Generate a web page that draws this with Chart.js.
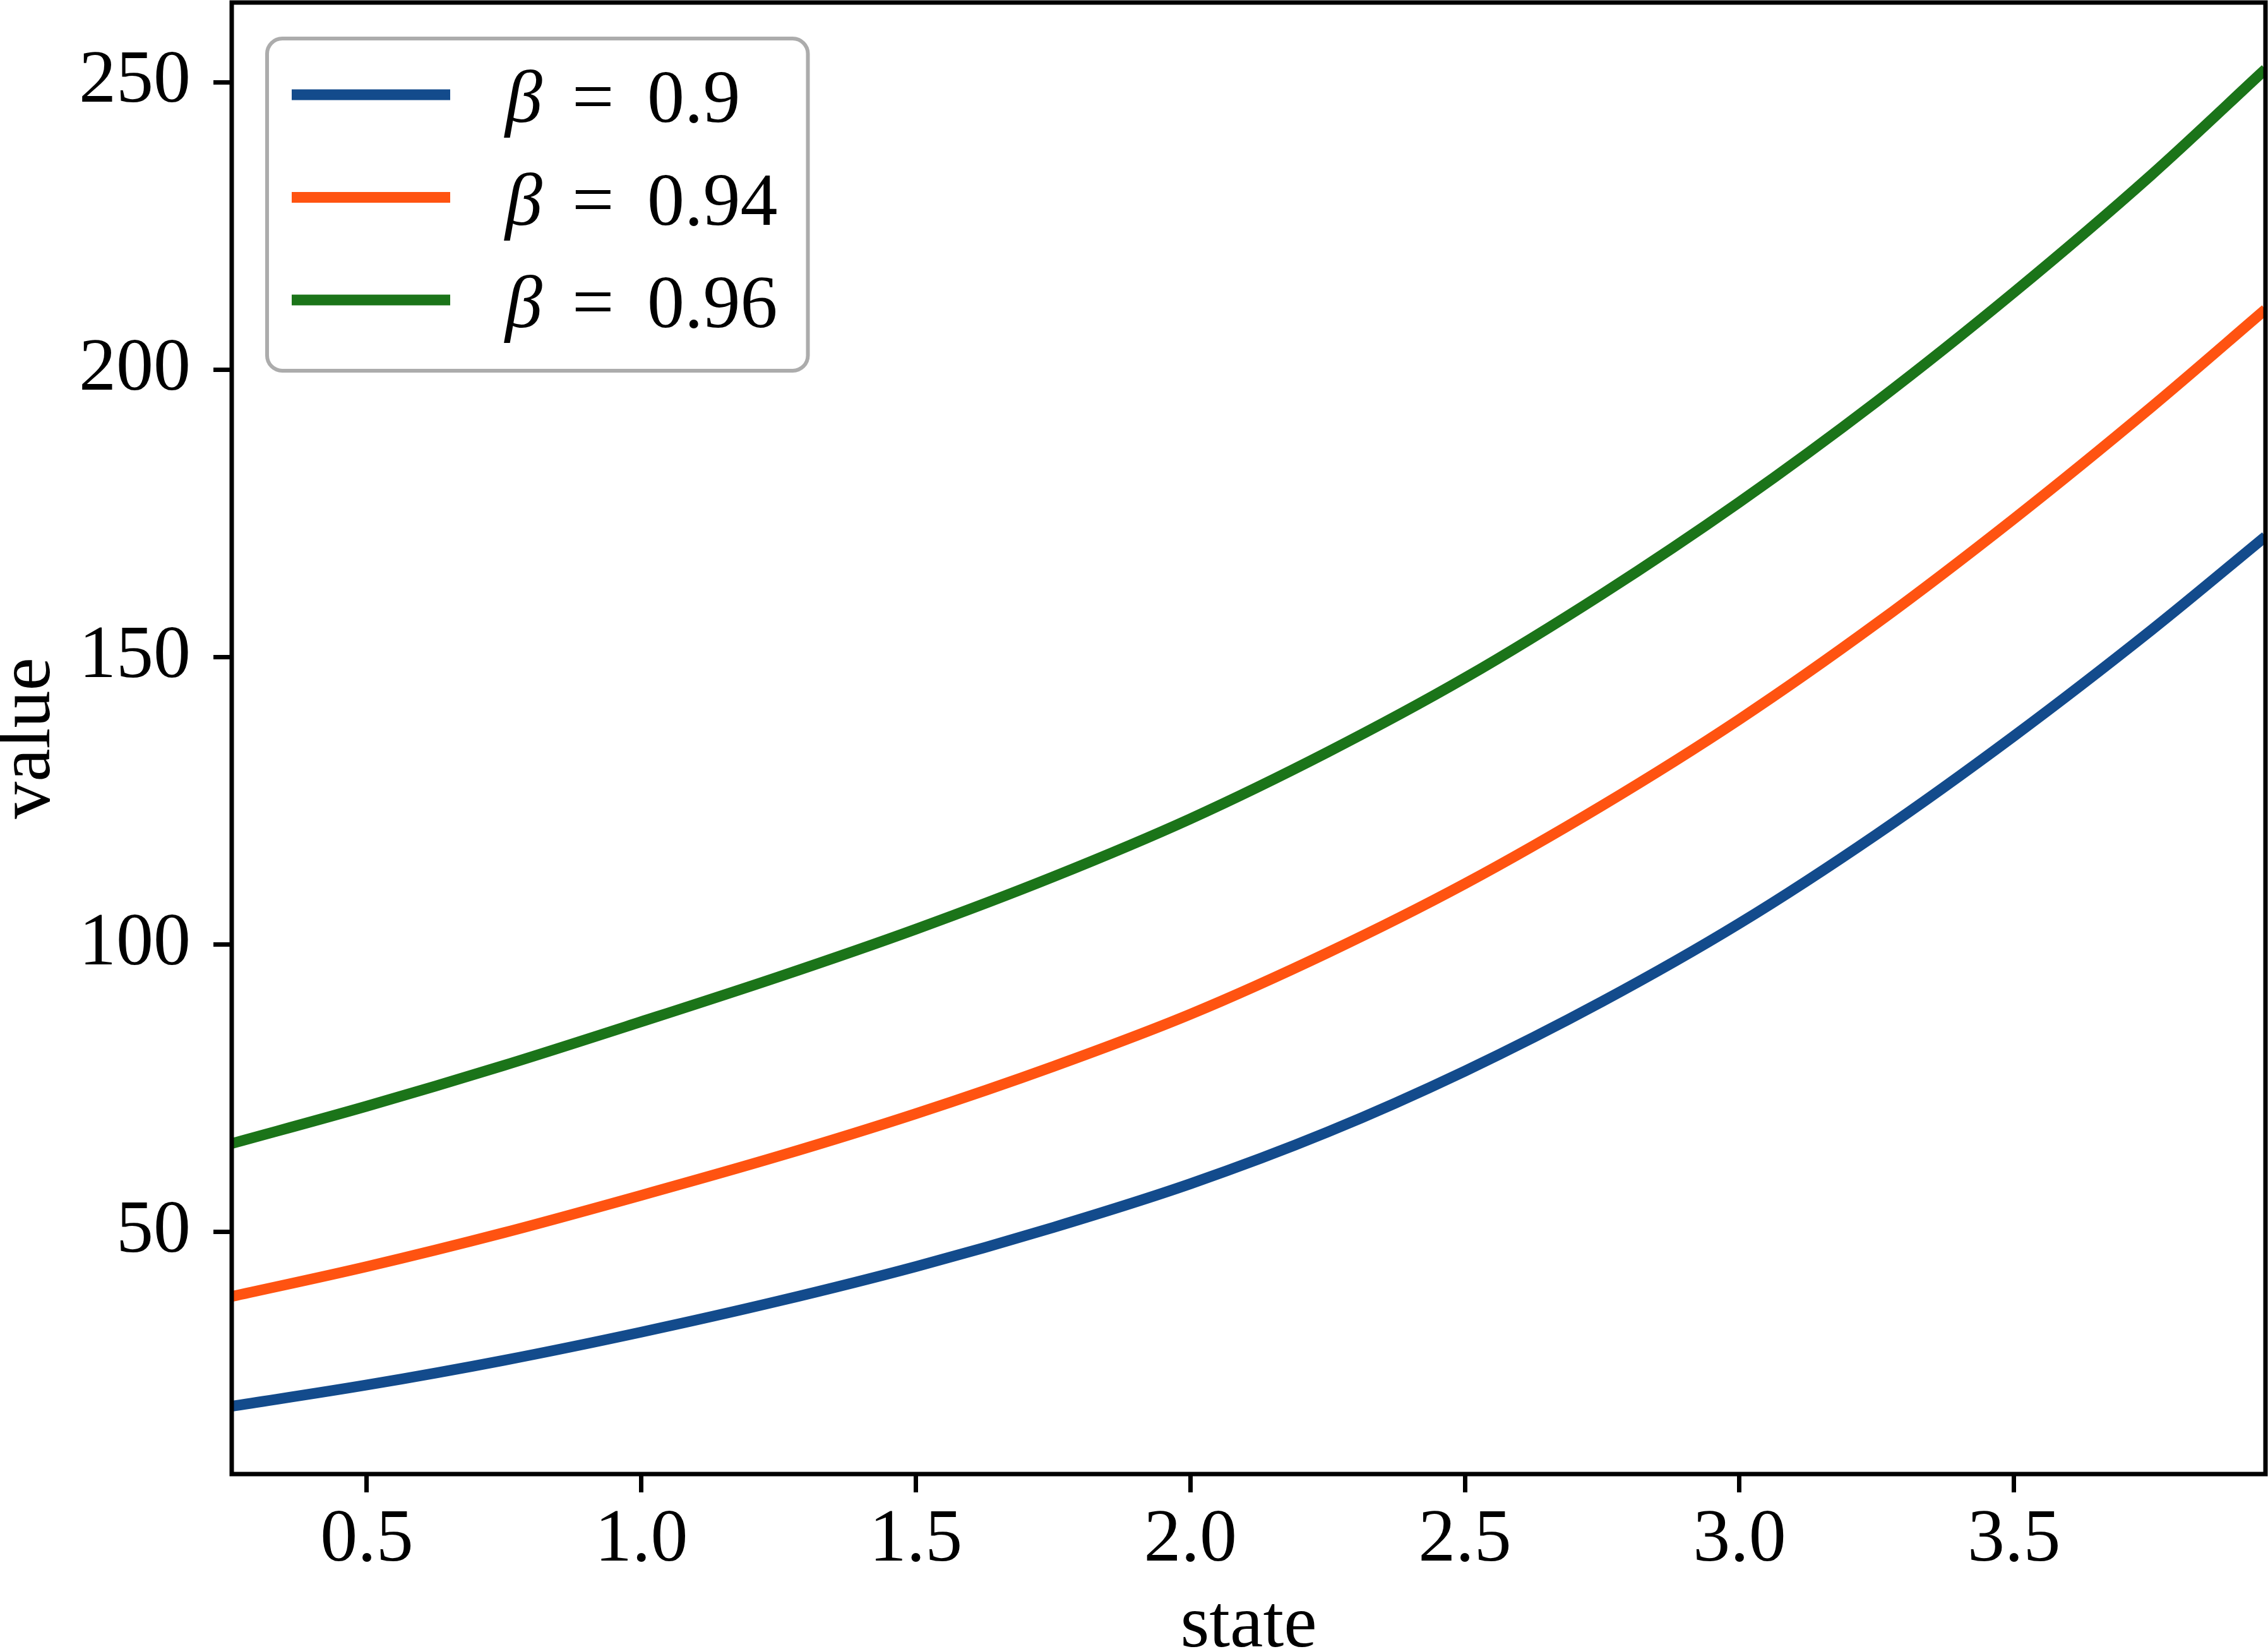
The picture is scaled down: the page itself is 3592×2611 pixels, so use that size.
<!DOCTYPE html>
<html>
<head>
<meta charset="utf-8">
<script src="https://cdn.jsdelivr.net/npm/chart.js@4.4.1/dist/chart.umd.min.js"></script>
<style>
  html, body { margin: 0; padding: 0; background: #fff; }
  canvas { display: block; }
</style>
</head>
<body>
<canvas id="chart" width="3592" height="2611"></canvas>
<script>
// values
const states = [0.254, 0.5, 0.75, 1.0, 1.25, 1.5, 1.75, 2.0, 2.25, 2.5, 2.75, 3.0, 3.25, 3.5, 3.75, 3.958];
const valueBeta090 = [19.7, 23.4, 27.7, 32.6, 38.0, 44.0, 50.8, 58.4, 67.4, 78.0, 90.1, 103.7, 119.2, 136.3, 154.7, 171.0];
const valueBeta094 = [38.8, 44.0, 49.9, 56.4, 63.2, 70.6, 78.8, 87.9, 98.6, 110.6, 124.2, 139.2, 155.9, 174.1, 193.5, 210.5];
const valueBeta096 = [65.4, 71.9, 79.0, 86.6, 94.4, 102.7, 111.8, 121.9, 133.5, 146.4, 161.0, 177.0, 194.5, 213.5, 233.9, 252.3];
const betas = ['0.9', '0.94', '0.96'];
const xTickValues = [0.5, 1.0, 1.5, 2.0, 2.5, 3.0, 3.5];
const yTickValues = [50, 100, 150, 200, 250];

const FONT = "'Liberation Serif', 'DejaVu Serif', serif";
const lineColors = ['#134B8C', '#FF5311', '#1B7419'];
const LINE_W = 17;

const series = [valueBeta090, valueBeta094, valueBeta096];

// matplotlib-like frame on all four sides plus the boxed legend in the upper left
const frameAndLegend = {
  id: 'frameAndLegend',
  afterDatasetsDraw(chart) {
    const { ctx, chartArea: a } = chart;
    ctx.save();
    ctx.strokeStyle = '#000';
    ctx.lineWidth = 7;
    ctx.strokeRect(a.left, a.top, a.right - a.left, a.bottom - a.top);

    const bx = a.left + 56, by = a.top + 57;
    const rowH = 162.5, firstRow = 89;
    const handleX = 39, handleLen = 251;
    const textX = 377;
    ctx.font = `118px ${FONT}`;
    let maxEnd = 0;
    chart.data.datasets.forEach(ds => {
      const w = ctx.measureText(ds.numText).width;
      maxEnd = Math.max(maxEnd, textX + 225 + w);
    });
    const bw = maxEnd + 48, bh = 526;

    ctx.beginPath();
    ctx.roundRect(bx, by, bw, bh, 24);
    ctx.fillStyle = 'rgba(255,255,255,0.8)';
    ctx.fill();
    ctx.lineWidth = 6;
    ctx.strokeStyle = '#acacac';
    ctx.stroke();

    chart.data.datasets.forEach((ds, i) => {
      const cy = by + firstRow + i * rowH;
      ctx.beginPath();
      ctx.moveTo(bx + handleX, cy);
      ctx.lineTo(bx + handleX + handleLen, cy);
      ctx.strokeStyle = ds.borderColor;
      ctx.lineWidth = LINE_W;
      ctx.stroke();

      ctx.fillStyle = '#000';
      ctx.textBaseline = 'alphabetic';
      ctx.textAlign = 'left';
      const base = cy + 43;
      ctx.font = `italic 118px ${FONT}`;
      ctx.fillText('\u03B2', bx + textX, base);
      ctx.font = `118px ${FONT}`;
      ctx.fillText('=', bx + textX + 106, base);
      ctx.fillText(ds.numText, bx + textX + 225, base);
    });
    ctx.restore();
  }
};

new Chart(document.getElementById('chart'), {
  type: 'line',
  data: {
    datasets: series.map((vals, i) => ({
      label: '\u03B2 = ' + betas[i],
      numText: betas[i],
      data: states.map((s, j) => ({ x: s, y: vals[j] })),
      borderColor: lineColors[i],
      borderWidth: LINE_W,
      pointRadius: 0,
      fill: false,
      cubicInterpolationMode: 'monotone'
    }))
  },
  options: {
    responsive: false,
    animation: false,
    devicePixelRatio: 1,
    layout: { padding: { top: 4, right: 4, left: 0, bottom: 0 } },
    plugins: { legend: { display: false }, tooltip: { enabled: false } },
    scales: {
      x: {
        type: 'linear',
        min: 0.254,
        max: 3.958,
        afterFit: s => { s.height = 277; s.paddingLeft = 0; s.paddingRight = 0; },
        afterBuildTicks: s => { s.ticks = xTickValues.map(v => ({ value: v })); },
        border: { display: false },
        grid: { drawOnChartArea: false, drawTicks: true, tickLength: 29, tickWidth: 7, tickColor: '#000' },
        ticks: {
          color: '#000',
          padding: 6,
          font: { family: FONT, size: 118 },
          callback: v => Number(v).toFixed(1)
        },
        title: {
          display: true,
          text: 'state',
          color: '#000',
          font: { family: FONT, size: 118, lineHeight: 0.6 },
          padding: 0
        }
      },
      y: {
        min: 7.9,
        max: 263.9,
        afterFit: s => { s.width = 367; s.paddingTop = 0; s.paddingBottom = 0; },
        afterBuildTicks: s => { s.ticks = yTickValues.map(v => ({ value: v })); },
        border: { display: false },
        grid: { drawOnChartArea: false, drawTicks: true, tickLength: 29, tickWidth: 7, tickColor: '#000' },
        ticks: {
          color: '#000',
          padding: 36,
          font: { family: FONT, size: 118 },
          callback: v => String(v)
        },
        title: {
          display: true,
          text: 'value',
          color: '#000',
          font: { family: FONT, size: 118, lineHeight: 0.8 },
          padding: 0
        }
      }
    }
  },
  plugins: [frameAndLegend]
});
</script>
</body>
</html>
